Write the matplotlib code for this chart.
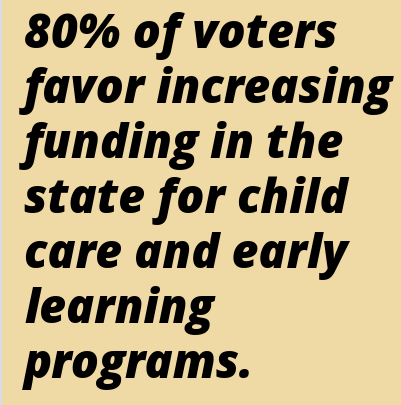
import matplotlib.pyplot as plt
from matplotlib.patches import Rectangle

# Text content
lines = ["80% of voters", "favor increasing", "funding in the",
         "state for child", "care and early", "learning", "programs."]
baselines = [48, 103, 158, 213, 268, 323, 378]  # px from top

W, H = 401, 406
fig = plt.figure(figsize=(W / 100, H / 100), dpi=100)
fig.patch.set_facecolor("#efd9a4")

# thin strip on the left edge
fig.add_artist(Rectangle((0, 0), 2 / W, 1, transform=fig.transFigure,
                         facecolor="#d6dde6", edgecolor="none"))

for txt, b in zip(lines, baselines):
    fig.text(24 / W, 1 - b / H, txt, fontsize=33.5, fontfamily="Open Sans",
             fontweight=800, fontstyle="italic", color="black",
             ha="left", va="baseline")

plt.savefig("out.png", dpi=100, facecolor=fig.get_facecolor())
